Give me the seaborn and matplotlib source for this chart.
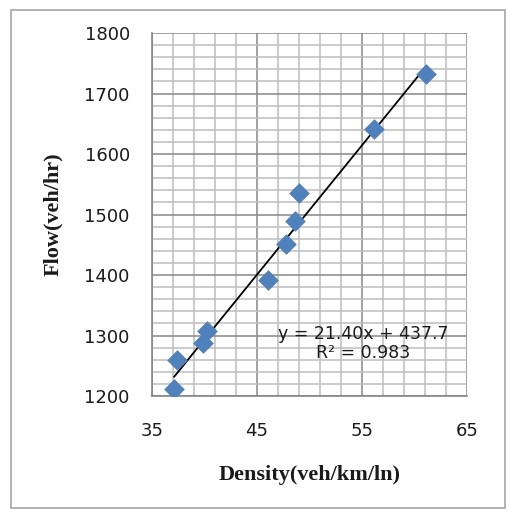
import matplotlib
matplotlib.use("Agg")
import matplotlib.pyplot as plt
from matplotlib.patches import Rectangle
import numpy as np
import pandas as pd
import seaborn as sns

# values
density = [37.1, 37.4, 39.9, 40.2, 46.0, 47.8, 48.6, 49.0, 56.1, 61.1]
flow = [1211, 1259, 1288, 1308, 1391, 1451, 1489, 1536, 1642, 1732]
slope = 21.40
intercept = 437.7
r_squared = 0.983

x_ticks = [35, 45, 55, 65]
y_ticks = [1200, 1300, 1400, 1500, 1600, 1700, 1800]
x_minor = np.arange(35, 66, 2)
y_minor = np.arange(1200, 1801, 20)

x_label = "Density(veh/km/ln)"
y_label = "Flow(veh/hr)"

df = pd.DataFrame({"density": density, "flow": flow})

# trend line from the fitted equation, over the data range
trend_x = np.array([min(density), max(density)])
trend = pd.DataFrame({"density": trend_x, "flow": slope * trend_x + intercept})

sns.set_style("white")
plt.rcParams["font.family"] = ["DejaVu Sans"]

fig = plt.figure(figsize=(5.10, 5.17), dpi=100)
ax = fig.add_axes([0.298, 0.234, 0.618, 0.702])

# outer chart frame (Excel style)
fig.patches.append(Rectangle((0.021, 0.017), 0.970, 0.963, transform=fig.transFigure,
                             fill=False, edgecolor="#a6a6a6", linewidth=1.2))

sns.lineplot(data=trend, x="density", y="flow", color="black", linewidth=1.3, ax=ax, zorder=2)
sns.scatterplot(data=df, x="density", y="flow", marker="D", s=100, color="#4f81bd",
                edgecolor="#4f81bd", linewidth=0.5, ax=ax, zorder=3)

ax.set_xlim(35, 65)
ax.set_ylim(1200, 1800)
ax.set_xticks(x_ticks)
ax.set_yticks(y_ticks)
ax.set_xticks(x_minor, minor=True)
ax.set_yticks(y_minor, minor=True)

ax.grid(which="minor", color="#bdbdbd", linewidth=1.1, zorder=0)
ax.grid(which="major", color="#888888", linewidth=1.1, zorder=0)
ax.set_axisbelow(True)

for side in ["top", "right"]:
    ax.spines[side].set_visible(False)
for side in ["left", "bottom"]:
    ax.spines[side].set_color("#868686")
    ax.spines[side].set_linewidth(1.2)

ax.tick_params(axis="both", which="major", direction="out", length=6, width=1.0,
               color="#868686", labelsize=13, labelcolor="#1a1a1a")
ax.tick_params(axis="both", which="minor", length=0)
ax.tick_params(axis="x", pad=13)
ax.tick_params(axis="y", pad=10)

ax.set_xlabel(x_label, fontsize=16, fontweight="bold", family="Liberation Serif",
              color="#1a1a1a", labelpad=18)
ax.set_ylabel(y_label, fontsize=16, fontweight="bold", family="Liberation Serif",
              color="#1a1a1a", labelpad=15)

ax.text(55.1, 1287, f"y = {slope:.2f}x + {intercept}\nR² = {r_squared}", ha="center",
        va="center", fontsize=12.5, color="#1a1a1a", linespacing=1.1, zorder=4)

fig.savefig("out.png", dpi=100)
plt.close()
